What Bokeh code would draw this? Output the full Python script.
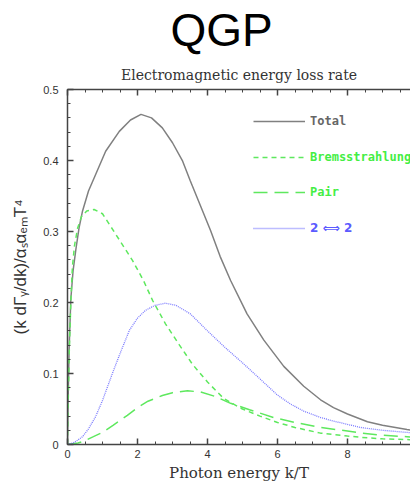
from bokeh.plotting import figure
from bokeh.models import Title, LinearAxis, FixedTicker, Legend, LegendItem, Range1d
from bokeh.embed import file_html
from bokeh.resources import INLINE

# ---- data ----
total_x = [0, 0.02, 0.05, 0.095, 0.16, 0.24, 0.33, 0.43, 0.6, 0.81, 1.09, 1.48, 1.8, 2.10, 2.4, 2.71, 3.0,
           3.29, 3.51, 3.86, 4.09, 4.36, 4.66, 5.13, 5.61, 6.18, 6.75, 7.23, 7.6, 8.0, 8.57, 9.0, 9.7, 10.0]
total_y = [0, 0.07, 0.14, 0.205, 0.245, 0.275, 0.305, 0.329, 0.357, 0.381, 0.413, 0.441, 0.457, 0.465, 0.460,
           0.446, 0.425, 0.399, 0.371, 0.329, 0.301, 0.265, 0.231, 0.184, 0.147, 0.110, 0.082, 0.063, 0.052,
           0.043, 0.032, 0.027, 0.021, 0.019]

brems_x = [0, 0.02, 0.05, 0.095, 0.14, 0.2, 0.29, 0.4, 0.55, 0.76, 1.0, 1.38, 1.86, 2.17, 2.43, 2.8, 3.2,
           3.57, 4.0, 4.46, 4.7, 5.0, 5.5, 6.0, 6.5, 7.23, 8.0, 8.4, 9.0, 9.7, 10.0]
brems_y = [0, 0.06, 0.13, 0.20, 0.25, 0.28, 0.305, 0.321, 0.329, 0.331, 0.325, 0.296, 0.259, 0.231, 0.203,
           0.17, 0.14, 0.113, 0.088, 0.065, 0.058, 0.05, 0.04, 0.031, 0.024, 0.016, 0.012, 0.010, 0.008,
           0.007, 0.006]

pair_x = [0, 0.3, 0.43, 0.74, 1.0, 1.3, 1.71, 2.0, 2.3, 2.71, 3.0, 3.43, 3.8, 4.2, 4.66, 5.2, 5.89, 6.5,
          7.23, 8.0, 8.4, 9.0, 9.7, 10.0]
pair_y = [0, 0.002, 0.004, 0.011, 0.017, 0.027, 0.041, 0.052, 0.061, 0.069, 0.073, 0.0756, 0.074, 0.068,
          0.058, 0.049, 0.038, 0.031, 0.024, 0.019, 0.016, 0.013, 0.011, 0.010]

two_x = [0, 0.2, 0.43, 0.6, 0.8, 1.0, 1.29, 1.5, 1.77, 2.0, 2.23, 2.5, 2.8, 3.1, 3.51, 4.0, 4.47, 5.0, 5.42,
         5.99, 6.37, 6.75, 7.23, 7.6, 8.37, 9.0, 9.7, 10.0]
two_y = [0, 0.003, 0.011, 0.022, 0.039, 0.062, 0.101, 0.128, 0.161, 0.178, 0.189, 0.196, 0.199, 0.196,
         0.184, 0.160, 0.138, 0.115, 0.096, 0.070, 0.057, 0.047, 0.038, 0.033, 0.024, 0.020, 0.017, 0.016]

x_major = [0, 2, 4, 6, 8]
x_minor = [v * 0.5 for v in range(0, 21)]
y_major = [0, 0.1, 0.2, 0.3, 0.4, 0.5]
y_minor = [v * 0.02 for v in range(0, 26)]
y_labels = {0: "0", 0.1: "0.1", 0.2: "0.2", 0.3: "0.3", 0.4: "0.4", 0.5: "0.5"}
top_labels = {0: "", 2: "", 4: "", 6: "", 8: ""}

GRAY = "#808080"
GREEN = "#5ee85e"
BLUE = "#7b7bff"

p = figure(width=410, height=484, output_backend="svg", toolbar_location=None,
           x_range=Range1d(0, 9.8), y_range=Range1d(0, 0.5), title=None,
           x_axis_type=None, y_axis_type=None,
           min_border_left=67, min_border_right=0, min_border_top=10, min_border_bottom=10)
p.outline_line_color = None
p.xgrid.visible = False
p.ygrid.visible = False
p.background_fill_color = "white"
p.border_fill_color = "white"


def style_axis(ax, ticks, minor):
    ax.ticker = FixedTicker(ticks=ticks, minor_ticks=minor)
    ax.major_tick_in = 6
    ax.major_tick_out = 0
    ax.minor_tick_in = 3
    ax.minor_tick_out = 0
    ax.axis_line_color = "#444444"
    ax.axis_line_width = 1.5
    ax.major_tick_line_color = "#444444"
    ax.minor_tick_line_color = "#444444"
    ax.major_tick_line_width = 1.5
    ax.major_label_text_font = "Liberation Sans"
    ax.major_label_text_font_size = "11px"
    ax.major_label_text_color = "#333333"


xb = LinearAxis()
style_axis(xb, x_major, x_minor)
xb.major_label_standoff = 5
xb.axis_label = "Photon energy k/T"
xb.axis_label_text_font = "DejaVu Serif"
xb.axis_label_text_font_style = "normal"
xb.axis_label_text_font_size = "15px"
xb.axis_label_text_color = "#333333"
xb.axis_label_standoff = 3
p.add_layout(xb, "below")

yl = LinearAxis()
style_axis(yl, y_major, y_minor)
yl.major_label_overrides = y_labels
yl.major_label_standoff = 9
yl.axis_label = "(k dΓᵧ/dk)/αₛαₑₘT⁴"
yl.axis_label_text_font = "Liberation Sans"
yl.axis_label_text_font_style = "normal"
yl.axis_label_text_font_size = "17px"
yl.axis_label_text_color = "#333333"
yl.axis_label_standoff = 10
p.add_layout(yl, "left")

xt = LinearAxis()
style_axis(xt, x_major, x_minor)
xt.major_label_overrides = top_labels
xt.major_label_text_font_size = "1px"
xt.major_label_standoff = 0
p.add_layout(xt, "above")

sub = Title(text="Electromagnetic energy loss rate", align="center", text_font="DejaVu Serif",
            text_font_size="14px", text_font_style="normal", text_color="#333333", standoff=14)
p.add_layout(sub, "above")
main = Title(text="QGP", align="left", offset=103, text_font="Liberation Sans",
             text_font_size="46px", text_font_style="normal", text_color="black", standoff=3)
p.add_layout(main, "above")

r_tot = p.line(total_x, total_y, line_color=GRAY, line_width=1.5)
r_br = p.line(brems_x, brems_y, line_color=GREEN, line_width=1.5, line_dash="5 4")
r_pa = p.line(pair_x, pair_y, line_color=GREEN, line_width=1.5, line_dash="14 7")
r_two = p.line(two_x, two_y, line_color=BLUE, line_width=1.3, line_dash="1 1")

entries = [("Total", r_tot, "#666666", "DejaVu Sans Mono", 323),
           ("Bremsstrahlung", r_br, "#44ee44", "DejaVu Sans Mono", 287),
           ("Pair", r_pa, "#44ee44", "DejaVu Sans Mono", 252),
           ("2 ⟺ 2", r_two, "#5b5bff", "DejaVu Sans", 216)]
for label, rend, col, font, ypos in entries:
    lg = Legend(items=[LegendItem(label=label, renderers=[rend])], location=(186, ypos - 8),
                glyph_width=52, glyph_height=16, label_height=16, padding=0, margin=0, spacing=0,
                label_standoff=5, background_fill_alpha=0, border_line_color=None,
                label_text_font=font, label_text_font_style="bold",
                label_text_font_size="12px", label_text_color=col)
    p.add_layout(lg, "center")

open("out.html", "w").write(file_html(p, INLINE))
